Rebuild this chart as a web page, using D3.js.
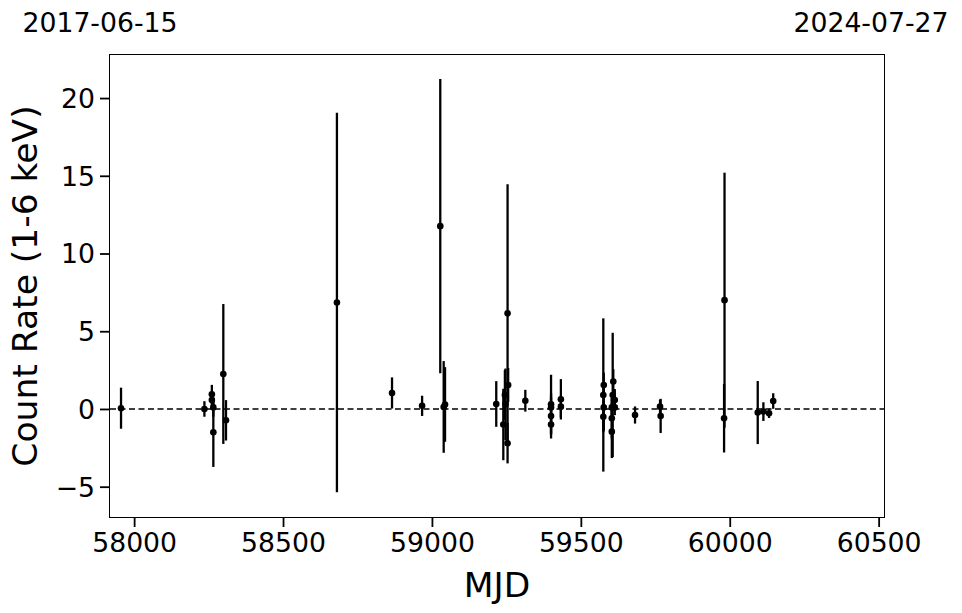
<!DOCTYPE html>
<html><head><meta charset="utf-8">
<script src="https://cdn.jsdelivr.net/npm/d3@7"></script>
<style>body{margin:0;background:#fff;} text{font-family:"DejaVu Sans",sans-serif;}</style>
</head><body>
<svg id="c" width="962" height="613"></svg>
<script>
const mjd = [57956,58236,58261,58261,58266,58266,58299.5,58308.5,58681,58866,58967,59028,59039.5,59044,59216,59239.7,59245,59247,59254,59254,59256,59313.6,59400,59400,59400,59400,59433,59433,59575.5,59577,59577,59575.5,59607,59604,59609,59614,59614,59604,59604,59682,59766,59768,59982.5,59981,60094,60113,60132,60146];
const rate = [0.05,0.0,0.95,0.58,0.1,-1.5,2.25,-0.73,6.85,1.03,0.2,11.76,0.13,0.29,0.32,-1.0,0.9,0.3,6.15,-2.2,1.54,0.53,0.3,0.1,-0.45,-1.0,0.62,0.15,0.9,1.54,0.1,-0.5,0.9,-1.46,1.76,0.58,0.1,-0.6,0.1,-0.39,0.15,-0.45,7.0,-0.6,-0.23,-0.17,-0.28,0.51];
const err = [1.32,0.5,0.6,0.5,0.6,2.23,4.5,1.3,12.2,1.0,0.65,9.46,2.95,2.4,1.47,2.3,1.6,2.3,8.3,1.3,1.1,0.7,1.9,0.9,1.2,0.9,1.3,0.7,4.93,0.8,1.5,1.0,4.0,1.7,0.8,0.7,0.5,1.3,0.6,0.55,0.45,1.1,8.2,2.2,2.03,0.6,0.3,0.5];
const xTicks = [58000,58500,59000,59500,60000,60500];
const yTicks = [-5,0,5,10,15,20];
const dateLabels = ["2017-06-15","2024-07-27"];

const svg = d3.select("#c");
const L=110,R=884,T=55,B=517;
const x = d3.scaleLinear().domain([57919,60518]).range([L,R]);
const y = d3.scaleLinear().domain([-6.95,22.77]).range([B,T]);
const ytxt = v => v<0 ? "\u2212"+Math.abs(v) : String(v);

const gx = svg.append("g").attr("transform",`translate(0,${B})`)
  .call(d3.axisBottom(x).tickValues(xTicks).tickFormat(d=>String(d)).tickSize(10).tickPadding(5));
const gy = svg.append("g").attr("transform",`translate(${L},0)`)
  .call(d3.axisLeft(y).tickValues(yTicks).tickFormat(ytxt).tickSize(10).tickPadding(5));
[gx,gy].forEach(g=>{
  g.select(".domain").remove();
  g.selectAll(".tick line").attr("stroke","#000").attr("stroke-width",1.8);
  g.selectAll(".tick text").attr("font-size",26.7).attr("fill","#000").attr("font-family","DejaVu Sans");
});
gx.selectAll(".tick text").attr("dy","0.75em");
gy.selectAll(".tick text").attr("dy","0.35em");

// zero line
svg.append("line").attr("x1",L).attr("x2",R).attr("y1",y(0)).attr("y2",y(0))
  .attr("stroke","#000").attr("stroke-width",1.5).attr("stroke-dasharray","6,3.5");

const pts = mjd.map((m,i)=>({m, r:rate[i], e:err[i]}));
svg.append("g").selectAll("line").data(pts).join("line")
  .attr("x1",d=>x(d.m)).attr("x2",d=>x(d.m))
  .attr("y1",d=>y(d.r-d.e)).attr("y2",d=>y(d.r+d.e))
  .attr("stroke","#000").attr("stroke-width",2.3);
svg.append("g").selectAll("circle").data(pts).join("circle")
  .attr("cx",d=>x(d.m)).attr("cy",d=>y(d.r)).attr("r",3.3).attr("fill","#000");

svg.append("rect").attr("x",L-0.5).attr("y",T-0.5).attr("width",R-L+1).attr("height",B-T+1)
  .attr("fill","none").attr("stroke","#000").attr("stroke-width",1);

svg.append("text").attr("x",(L+R)/2).attr("y",597).attr("text-anchor","middle")
  .attr("font-size",34.5).text("MJD");
svg.append("text").attr("transform",`translate(37,${(T+B)/2}) rotate(-90)`).attr("text-anchor","middle")
  .attr("font-size",34.5).text("Count Rate (1-6 keV)");
svg.append("text").attr("x",100).attr("y",32).attr("text-anchor","middle").attr("font-size",26.7).text(dateLabels[0]);
svg.append("text").attr("x",871).attr("y",32).attr("text-anchor","middle").attr("font-size",26.7).text(dateLabels[1]);
</script>
</body></html>
